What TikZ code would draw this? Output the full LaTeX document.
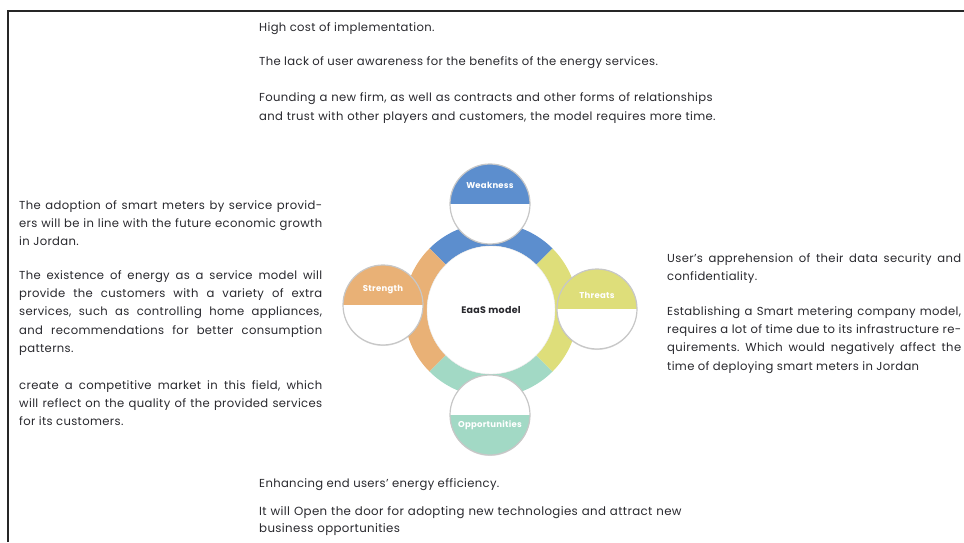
\documentclass[tikz,border=0pt]{standalone}
\usepackage{fontspec}
\setmainfont{Poppins}[LetterSpace=3]
\usepackage{xcolor}
\usetikzlibrary{shadows}
\frenchspacing

\definecolor{weakblue}{RGB}{92,142,206}
\definecolor{strengthorange}{RGB}{233,177,118}
\definecolor{threatyellow}{RGB}{222,222,122}
\definecolor{opportgreen}{RGB}{162,217,197}
\definecolor{textgray}{RGB}{40,40,45}

\tikzset{
	para/.style={inner sep=0pt, text=textgray, font=\fontsize{11.6}{18.4}\selectfont, anchor=base west},
	parajust/.style={para, align=justify, text width=#1},
	paraleft/.style={para, align=left, text width=#1},
	bubble/.style={circle, minimum size=80pt, inner sep=0pt, fill=white, draw=black!22, line width=1.2pt,
		drop shadow={opacity=0.25, shadow xshift=0pt, shadow yshift=-1pt}},
	tag/.style={text=white, font=\fontsize{8.5}{10}\selectfont\bfseries},
}

\begin{document}
\begin{tikzpicture}[x=1pt, y=1pt]
			\useasboundingbox (0,0) rectangle (964,542);
			\draw[line width=1.2pt, black!85] (8,0) -- (8,531) -- (964,531);

			% ring round the model
			\begin{scope}[shift={(491,232)}]
				\foreach \a/\col in {45/weakblue, 135/strengthorange, 225/opportgreen, 315/threatyellow}
					\fill[\col] (\a:87) arc (\a:\a+90:87) -- (\a+90:64) arc (\a+90:\a:64) -- cycle;
			\end{scope}
			\node[circle, minimum size=128pt, fill=white, draw=black!10, text=textgray,
				font=\fontsize{9.5}{11}\selectfont\bfseries] (hub) at (491,232) {EaaS model};

			\node[bubble, path picture={\fill[weakblue] (path picture bounding box.west) rectangle (path picture bounding box.north east);}] (weak) at (490,338) {};
			\node[bubble, path picture={\fill[strengthorange] (path picture bounding box.west) rectangle (path picture bounding box.north east);}] (strength) at (383,237) {};
			\node[bubble, path picture={\fill[threatyellow] (path picture bounding box.west) rectangle (path picture bounding box.north east);}] (threat) at (597,233) {};
			\node[bubble, path picture={\fill[opportgreen] (path picture bounding box.west) rectangle (path picture bounding box.south east);}] (opport) at (490,127) {};

			\node[tag] at ([yshift=19pt]weak.center) {Weakness};
			\node[tag] at ([yshift=15pt]strength.center) {Strength};
			\node[tag] at ([yshift=14pt]threat.center) {Threats};
			\node[tag] at ([yshift=-10pt]opport.center) {Opportunities};

			% weakness
			\node[para] (weak1) at (259,510) {High cost of implementation.};
			\node[para] (weak2) at (259,476) {The lack of user awareness for the benefits of the energy services.};
			\node[paraleft=480pt] (weak3) at (259,440) {Founding a new firm, as well as contracts and other forms of relationships\\and trust with other players and customers, the model requires more time.};

			% strength
			\node[parajust=303pt] (str1) at (19,333) {The adoption of smart meters by service provid-\linebreak ers will be in line with the future economic growth\linebreak in Jordan.};
			\node[parajust=303pt] (str2) at (19,263) {The existence of energy as a service model will\linebreak provide the customers with a variety of extra\linebreak services, such as controlling home appliances,\linebreak and recommendations for better consumption\linebreak patterns.};
			\node[parajust=303pt] (str3) at (19,153) {create a competitive market in this field, which\linebreak will reflect on the quality of the provided services\linebreak for its customers.};

			% threats
			\node[parajust=294pt] (thr1) at (667,280) {User’s apprehension of their data security and\linebreak confidentiality.};
			\node[parajust=294pt] (thr2) at (667,227) {Establishing a Smart metering company model,\linebreak requires a lot of time due to its infrastructure re-\linebreak quirements. Which would negatively affect the\linebreak time of deploying smart meters in Jordan};

			% opportunities
			\node[para] (opp1) at (259,55) {Enhancing end users’ energy efficiency.};
			\node[paraleft=480pt, font=\fontsize{11.8}{17}\selectfont] (opp2) at (259,27) {It will Open the door for adopting new technologies and attract new\\business opportunities};
		\end{tikzpicture}
\end{document}
